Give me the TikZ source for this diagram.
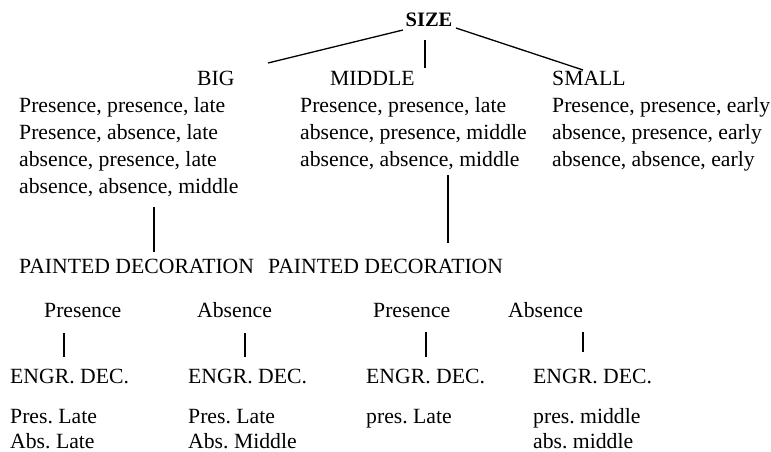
\documentclass[tikz,border=0pt]{standalone}
\usepackage{fontspec}
\setmainfont{Liberation Serif}
\frenchspacing
\begin{document}
\begin{tikzpicture}[x=1pt,y=-1pt,
  txt/.style={anchor=base west,inner sep=0pt,font=\fontsize{21.7}{27}\selectfont},
  lastrow/.style={txt,text depth=0pt},
  link/.style={line width=1.3pt,black}]
\useasboundingbox (0,0) rectangle (771,452);

% root
\node[anchor=base,inner sep=0pt,font=\fontsize{20.5}{27}\selectfont\bfseries] (size) at (429,27) {SIZE};

% first level labels
\node[txt] (big) at (197,85) {BIG};
\node[txt] (mid) at (330,85) {MIDDLE};
\node[txt] (small) at (552,85) {SMALL};

% combinations under each size
\node[txt] (b1) at (19,112) {Presence, presence, late};
\node[txt] (b2) at (19,139) {Presence, absence, late};
\node[txt] (b3) at (19,166) {absence, presence, late};
\node[txt] (b4) at (19,193) {absence, absence, middle};
\node[txt] (m1) at (300,112) {Presence, presence, late};
\node[txt] (m2) at (300,139) {absence, presence, middle};
\node[txt] (m3) at (300,166) {absence, absence, middle};
\node[txt] (s1) at (552,112) {Presence, presence, early};
\node[txt] (s2) at (552,139) {absence, presence, early};
\node[txt] (s3) at (552,166) {absence, absence, early};

% second level
\node[txt] (pd1) at (19,273) {PAINTED DECORATION};
\node[txt] (pd2) at (268,273) {PAINTED DECORATION};

\node[txt] (p1) at (44,317) {Presence};
\node[txt] (a1) at (197,317) {Absence};
\node[txt] (p2) at (373,317) {Presence};
\node[txt] (a2) at (508,317) {Absence};

\node[txt] (e1) at (10,383) {ENGR. DEC.};
\node[txt] (e2) at (188,383) {ENGR. DEC.};
\node[txt] (e3) at (366,383) {ENGR. DEC.};
\node[txt] (e4) at (533,383) {ENGR. DEC.};

\node[txt] (r1a) at (10,423) {Pres. Late};
\node[lastrow] (r1b) at (10,448) {Abs. Late};
\node[txt] (r2a) at (188,423) {Pres. Late};
\node[lastrow] (r2b) at (188,448) {Abs. Middle};
\node[txt] (r3a) at (366,423) {pres. Late};
\node[txt] (r4a) at (533,423) {pres. middle};
\node[lastrow] (r4b) at (533,448) {abs. middle};

% connector end points
\coordinate (sl) at (403,30);  \coordinate (bl) at (268,63);
\coordinate (sm) at (425,40);  \coordinate (ml) at (425,68);
\coordinate (sr) at (456,28);  \coordinate (rl) at (583,70);
\coordinate (bt) at (154,207); \coordinate (bb) at (154,252);
\coordinate (mt) at (448,175); \coordinate (mb) at (448,243);
\coordinate (t1) at (64,333);  \coordinate (u1) at (64,357);
\coordinate (t2) at (245,333); \coordinate (u2) at (245,357);
\coordinate (t3) at (426,332); \coordinate (u3) at (426,357);
\coordinate (t4) at (583,332); \coordinate (u4) at (583,352);

\draw[link] (sl) -- (bl);
\draw[link] (sm) -- (ml);
\draw[link] (sr) -- (rl);
\draw[link] (bt) -- (bb);
\draw[link] (mt) -- (mb);
\draw[link] (t1) -- (u1);
\draw[link] (t2) -- (u2);
\draw[link] (t3) -- (u3);
\draw[link] (t4) -- (u4);
\end{tikzpicture}
\end{document}
